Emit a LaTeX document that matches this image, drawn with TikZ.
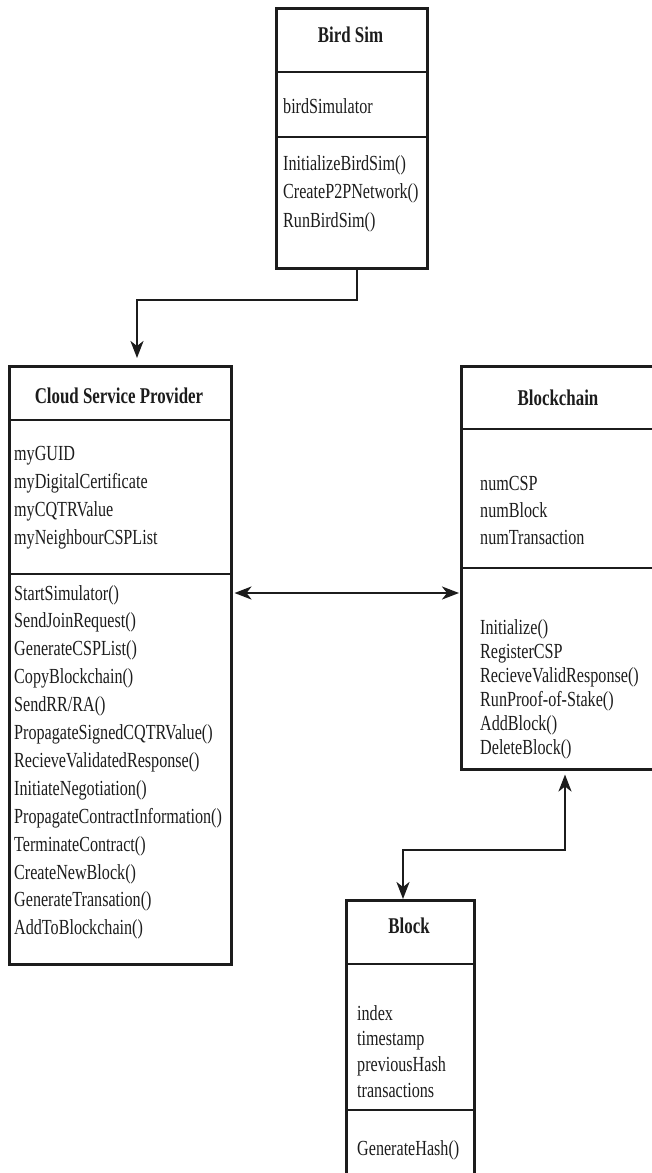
\documentclass[tikz,border=0pt]{standalone}
\usepackage{fontspec}
\setmainfont{Liberation Serif}[FakeStretch=0.75]
\usetikzlibrary{arrows.meta,calc}
\definecolor{ink}{HTML}{1C1C1C}
\begin{document}
\begin{tikzpicture}[x=1pt,y=-1pt,
  umlbox/.style={draw=ink, line width=2.5pt, rectangle, inner sep=0pt, anchor=north west},
  divider/.style={draw=ink, line width=2.5pt},
  title/.style={font=\fontsize{22.5}{27}\selectfont\bfseries, text=ink, anchor=base, inner sep=0pt},
  member/.style={font=\fontsize{21.5}{26}\selectfont, text=ink, anchor=base west, inner sep=0pt},
  tip/.tip={Stealth[length=17pt,width=13pt,inset=5pt]},
  link/.style={draw=ink, line width=2.5pt, -tip},
  biglink/.style={draw=ink, line width=2.5pt, tip-tip},
]
\useasboundingbox (0,0) rectangle (652,1173);
\clip (0,0) rectangle (652,1173);

% class boxes
\node[umlbox, minimum width=151pt, minimum height=260pt] (bird) at (275,7) {};
\node[umlbox, minimum width=222pt, minimum height=598pt] (csp) at (8,365) {};
\node[umlbox, minimum width=196pt, minimum height=403pt] (chain) at (460,365) {};
\node[umlbox, minimum width=128pt, minimum height=290pt] (block) at (345,899) {};

% compartment separators
\draw[divider] (275,72) -- (426,72);
\draw[divider] (275,137) -- (426,137);
\draw[divider] (8,420) -- (230,420);
\draw[divider] (8,574) -- (230,574);
\draw[divider] (460,429) -- (660,429);
\draw[divider] (460,568) -- (660,568);
\draw[divider] (345,964) -- (473,964);
\draw[divider] (345,1110) -- (473,1110);

% Bird Sim
\node[title] (bird-t) at (350.5,42) {Bird Sim};
\node[member] (bird-a1) at (283,113) {birdSimulator};
\foreach \t [count=\i] in {InitializeBirdSim(), CreateP2PNetwork(), RunBirdSim()}
  \node[member] (bird-m\i) at (283,{170+28.5*(\i-1)}) {\t};

% Cloud Service Provider
\node[title] (csp-t) at (119,403) {Cloud Service Provider};
\foreach \t [count=\i] in {myGUID, myDigitalCertificate, myCQTRValue, myNeighbourCSPList}
  \node[member] (csp-a\i) at (14,{460+28*(\i-1)}) {\t};
\foreach \t [count=\i] in {StartSimulator(), SendJoinRequest(), GenerateCSPList(),
    CopyBlockchain(), SendRR/RA(), PropagateSignedCQTRValue(),
    RecieveValidatedResponse(), InitiateNegotiation(),
    PropagateContractInformation(), TerminateContract(), CreateNewBlock(),
    GenerateTransation(), AddToBlockchain()}
  \node[member] (csp-m\i) at (14,{600+27.9*(\i-1)}) {\t};

% Blockchain
\node[title] (chain-t) at (558,405) {Blockchain};
\foreach \t [count=\i] in {numCSP, numBlock, numTransaction}
  \node[member] (chain-a\i) at (480,{490+27*(\i-1)}) {\t};
\foreach \t [count=\i] in {Initialize(), RegisterCSP, RecieveValidResponse(),
    RunProof-of-Stake(), AddBlock(), DeleteBlock()}
  \node[member] (chain-m\i) at (480,{634+24*(\i-1)}) {\t};

% Block
\node[title] (block-t) at (409,933) {Block};
\foreach \t [count=\i] in {index, timestamp, previousHash, transactions}
  \node[member] (block-a\i) at (357,{1020+25.7*(\i-1)}) {\t};
\node[member] (block-m1) at (357,1155) {GenerateHash()};

% associations
\coordinate (b1) at (357,300);
\coordinate (b2) at (137,300);
\draw[link, shorten >=7pt] ($(bird.south west)+(82,0)$) -- (b1) -- (b2) -- (b2 |- csp.north);
\draw[biglink, shorten <=2pt, shorten >=1pt] (csp.east |- 0,593) -- (chain.west |- 0,593);
\coordinate (c1) at (403,850);
\coordinate (c2) at (565,850);
\draw[biglink, shorten >=4pt] (c1 |- block.north) -- (c1) -- (c2) -- (c2 |- chain.south);
\end{tikzpicture}
\end{document}
